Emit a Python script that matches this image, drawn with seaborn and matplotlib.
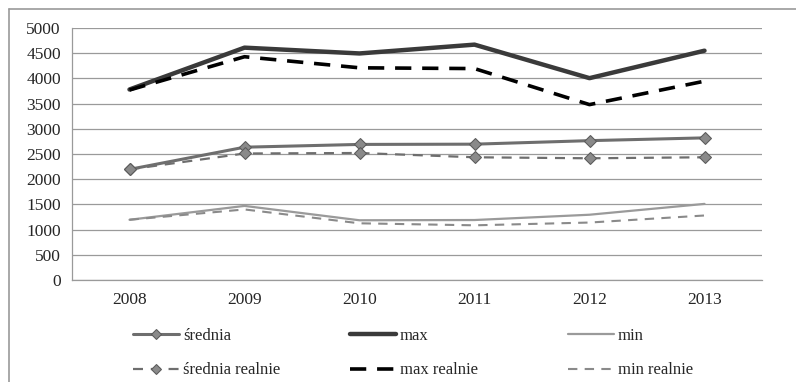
import matplotlib
matplotlib.use("Agg")
import matplotlib.pyplot as plt
import seaborn as sns
import pandas as pd
from matplotlib.lines import Line2D

years = ["2008", "2009", "2010", "2011", "2012", "2013"]
srednia = [2195, 2635, 2690, 2695, 2765, 2820]
maks = [3780, 4610, 4495, 4670, 4005, 4550]
mini = [1195, 1470, 1185, 1190, 1295, 1510]
srednia_realnie = [2195, 2510, 2520, 2435, 2415, 2435]
maks_realnie = [3770, 4430, 4210, 4195, 3480, 3945]
mini_realnie = [1195, 1400, 1125, 1085, 1140, 1280]

yticks = list(range(0, 5001, 500))

sns.set_style("white")
plt.rcParams["font.family"] = ["Liberation Serif", "DejaVu Serif"]

W, H = 796, 382
fig = plt.figure(figsize=(W / 100, H / 100), dpi=100)
ax = fig.add_axes([72 / W, 102 / H, 690 / W, 252 / H])

x = list(range(len(years)))
df = pd.DataFrame({"x": x})

series = [
    ("średnia", srednia, dict(color="#6e6e6e", lw=2.2, marker="D", ms=6,
                              mfc="#8a8a8a", mec="#5a5a5a")),
    ("średnia realnie", srednia_realnie, dict(color="#6e6e6e", lw=1.6, ls=(0, (4.5, 3.5)),
                                              marker="D", ms=6, mfc="#8a8a8a", mec="#5a5a5a")),
    ("max", maks, dict(color="#3a3a3a", lw=3.2)),
    ("max realnie", maks_realnie, dict(color="#000000", lw=2.6, ls=(0, (4.5, 3)))),
    ("min", mini, dict(color="#9a9a9a", lw=1.6)),
    ("min realnie", mini_realnie, dict(color="#8a8a8a", lw=1.5, ls=(0, (4.5, 3.5)))),
]

for name, vals, kw in series:
    d = df.assign(y=vals)
    sns.lineplot(data=d, x="x", y="y", ax=ax, label=name, **kw)

ax.set_xlim(-0.5, len(years) - 0.5)
ax.set_ylim(0, 5000)
ax.set_yticks(yticks)
ax.set_xticks(x)
ax.set_xticklabels(years)
ax.set_xticks([i - 0.5 for i in range(len(years) + 1)], minor=True)
ax.set_xlabel("")
ax.set_ylabel("")
ax.grid(axis="y", color="#9a9a9a", lw=0.9)
ax.set_axisbelow(True)
for s in ["top", "right"]:
    ax.spines[s].set_visible(False)
for s in ["left", "bottom"]:
    ax.spines[s].set_color("#9a9a9a")
    ax.spines[s].set_linewidth(0.9)
ax.tick_params(axis="x", which="major", length=0, labelsize=12.5, pad=9)
ax.tick_params(axis="x", which="minor", length=5, color="#9a9a9a", width=0.9, direction="out")
ax.tick_params(axis="y", length=5, color="#9a9a9a", width=0.9, labelsize=12.5, pad=3)

h, l = ax.get_legend_handles_labels()
ax.get_legend().remove()
# three legend columns, one legend each
col_x = [133, 350, 568]
for i, cx in enumerate(col_x):
    leg = fig.legend(h[2 * i:2 * i + 2], l[2 * i:2 * i + 2], loc="upper left",
                     bbox_to_anchor=(cx / W, 1 - 328 / H), frameon=False, fontsize=12,
                     handlelength=2.75, handletextpad=0.25, labelspacing=1.1,
                     borderpad=0, borderaxespad=0, markerscale=0.8)

# chart border (top and left edges only, as in the reference)
fig.add_artist(Line2D([9 / W, 1], [1 - 9 / H, 1 - 9 / H], transform=fig.transFigure,
                      color="#9a9a9a", lw=1.2))
fig.add_artist(Line2D([9 / W, 9 / W], [0, 1 - 9 / H], transform=fig.transFigure,
                      color="#9a9a9a", lw=1.2))

fig.savefig("out.png", dpi=100)
